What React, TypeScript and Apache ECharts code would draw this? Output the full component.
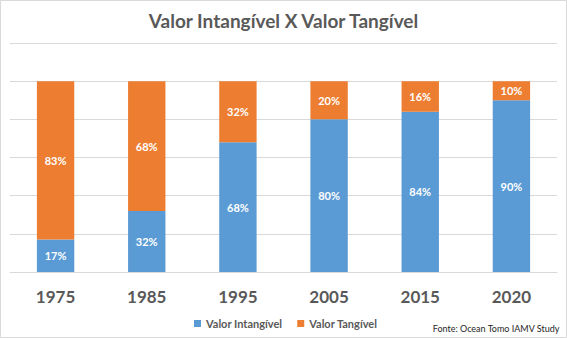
import React, { useEffect, useRef } from "react";
import * as echarts from "echarts";

const categories = ["1975", "1985", "1995", "2005", "2015", "2020"];
const intangivel = [17, 32, 68, 80, 84, 90];
const tangivel = [83, 68, 32, 20, 16, 10];
const seriesNames = ["Valor Intangível", "Valor Tangível"];
const titleText = "Valor Intangível X Valor Tangível";
const sourceText = "Fonte: Ocean Tomo IAMV Study";

const FONT = "Lato, 'Open Sans', sans-serif";

export default function App() {
  const ref = useRef<HTMLDivElement>(null);
  useEffect(() => {
    const chart = echarts.init(ref.current!, null, { renderer: "svg" });
    const label = {
      show: true,
      position: "inside",
      color: "#ffffff",
      fontWeight: "bold",
      fontSize: 11,
      fontFamily: FONT,
      formatter: (p: any) => p.value + "%",
    };
    chart.setOption({
      animation: false,
      backgroundColor: "#ffffff",
      title: {
        text: titleText,
        left: "center",
        top: 6,
        textStyle: { fontSize: 19, fontWeight: "bold", color: "#595959", fontFamily: FONT },
      },
      legend: {
        data: seriesNames,
        bottom: 4,
        left: 189,
        itemWidth: 7,
        itemHeight: 7,
        itemGap: 15,
        icon: "rect",
        textStyle: { fontSize: 11, fontWeight: "bold", color: "#595959", fontFamily: FONT },
      },
      grid: { left: 10, right: 10, top: 43, bottom: 66 },
      xAxis: {
        type: "category",
        data: categories,
        axisLine: { show: true, lineStyle: { color: "#d9d9d9" } },
        axisTick: { show: false },
        axisLabel: { fontSize: 17, fontWeight: "bold", color: "#595959", margin: 16, fontFamily: FONT },
      },
      yAxis: {
        type: "value",
        min: 0,
        max: 120,
        interval: 20,
        axisLabel: { show: false },
        axisLine: { show: false },
        axisTick: { show: false },
        splitLine: { lineStyle: { color: "#d9d9d9" } },
      },
      series: [
        {
          name: seriesNames[0],
          type: "bar",
          stack: "total",
          data: intangivel,
          barWidth: "41%",
          itemStyle: { color: "#5B9BD5" },
          label,
        },
        {
          name: seriesNames[1],
          type: "bar",
          stack: "total",
          data: tangivel,
          barWidth: "41%",
          itemStyle: { color: "#ED7D31" },
          label,
        },
      ],
      graphic: [
        {
          type: "rect",
          shape: { x: 0.5, y: 0.5, width: 566, height: 337 },
          style: { fill: "none", stroke: "#d9d9d9", lineWidth: 1 },
          silent: true,
        },
        {
          type: "text",
          right: 7,
          bottom: 5,
          style: { text: sourceText, fontSize: 9, fill: "#262626", fontFamily: FONT },
        },
      ],
    });
    return () => chart.dispose();
  }, []);
  return (
    <div
      ref={ref}
      style={{ position: "fixed", left: 0, top: 0, width: 567, height: 338 }}
    />
  );
}
